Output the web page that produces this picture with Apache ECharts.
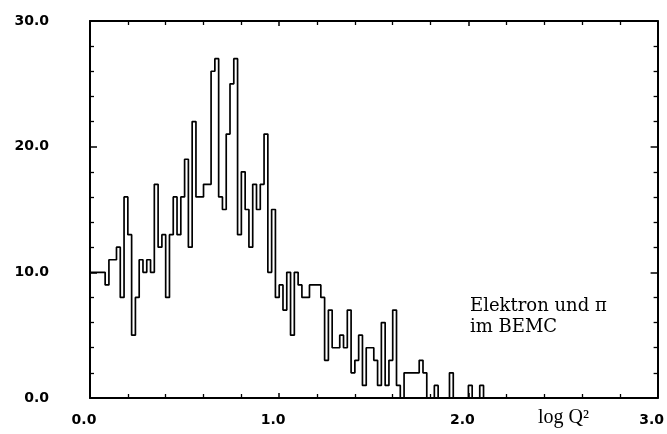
<!DOCTYPE html>
<html><head><meta charset="utf-8">
<script src="https://cdn.jsdelivr.net/npm/echarts@6/dist/echarts.min.js"></script>
<style>html,body{margin:0;padding:0;background:#fff}#c{width:667px;height:434px}</style>
</head><body><div id="c"></div>
<script>
// Histogram of log Q^2, bin width 0.02 starting at 0.0
const binWidth = 0.02;
const binStart = 0.0;
const binValues = [
  10,10,10,10, 9,11,11,12, 8,16,
  13, 5, 8,11,10,11,10,17,12,13,
   8,13,16,13,16,19,12,22,16,16,
  17,17,26,27,16,15,21,25,27,13,
  18,15,12,17,15,17,21,10,15, 8,
   9, 7,10, 5,10, 9, 8, 8, 9, 9,
   9, 8, 3, 7, 4, 4, 5, 4, 7, 2,
   3, 5, 1, 4, 4, 3, 1, 6, 1, 3,
   7, 1, 0, 2, 2, 2, 2, 3, 2, 0,
   0, 1, 0, 0, 0, 2, 0, 0, 0, 0,
   1, 0, 0, 1
];
const xTicks = [0, 1, 2, 3];
const yTicks = [0, 10, 20, 30];
const annotationLines = ['Elektron und \u03c0', 'im BEMC'];
const xTitle = 'log Q\u00b2';

const stepData = binValues.map((v, i) => [binStart + i * binWidth, v]);
stepData.push([binStart + binValues.length * binWidth, 0]);

const chart = echarts.init(document.getElementById('c'), null, {renderer: 'canvas'});
const axisLineStyle = {color: '#000', width: 2};
const labelFont = {color: '#000', fontFamily: '"DejaVu Sans", sans-serif', fontSize: 14, fontWeight: 'bold'};

function xAxisCfg(pos, showLabel) {
  return {
    type: 'value', position: pos, min: xTicks[0], max: xTicks[xTicks.length - 1], interval: 1,
    axisLine: {show: true, onZero: false, lineStyle: axisLineStyle},
    axisTick: {show: true, inside: true, length: 5, lineStyle: {color: '#000', width: 1.5}},
    minorTick: {show: true, splitNumber: 5, length: 4, lineStyle: {color: '#000', width: 1.3}},
    splitLine: {show: false},
    axisLabel: Object.assign({show: showLabel, margin: 15, padding: [0, 12, 0, 0],
      formatter: v => v.toFixed(1)}, labelFont)
  };
}
function yAxisCfg(pos, showLabel) {
  return {
    type: 'value', position: pos, min: yTicks[0], max: yTicks[yTicks.length - 1], interval: 10,
    axisLine: {show: true, onZero: false, lineStyle: axisLineStyle},
    axisTick: {show: true, inside: true, length: 7, lineStyle: {color: '#000', width: 1.5}},
    minorTick: {show: true, splitNumber: 5, length: 4, lineStyle: {color: '#000', width: 1.3}},
    splitLine: {show: false},
    axisLabel: Object.assign({show: showLabel, margin: 41, formatter: v => v.toFixed(1)}, labelFont)
  };
}

chart.setOption({
  animation: false,
  backgroundColor: '#fff',
  grid: {left: 90, right: 9, top: 21, bottom: 36, containLabel: false},
  xAxis: [xAxisCfg('bottom', true), xAxisCfg('top', false)],
  yAxis: [yAxisCfg('left', true), yAxisCfg('right', false)],
  series: [{
    type: 'line', xAxisIndex: 0, yAxisIndex: 0,
    step: 'end', symbol: 'none', clip: true,
    lineStyle: {color: '#000', width: 1.7},
    data: stepData
  }],
  graphic: [
    {type: 'text', left: 470, top: 296, style: {text: annotationLines.join('\n'),
      font: '18px "DejaVu Serif", serif', fill: '#000', lineHeight: 21}},
    {type: 'text', left: 538, top: 408, style: {text: xTitle,
      font: '20px "Liberation Serif", serif', fill: '#000'}}
  ]
});
</script>
</body></html>
